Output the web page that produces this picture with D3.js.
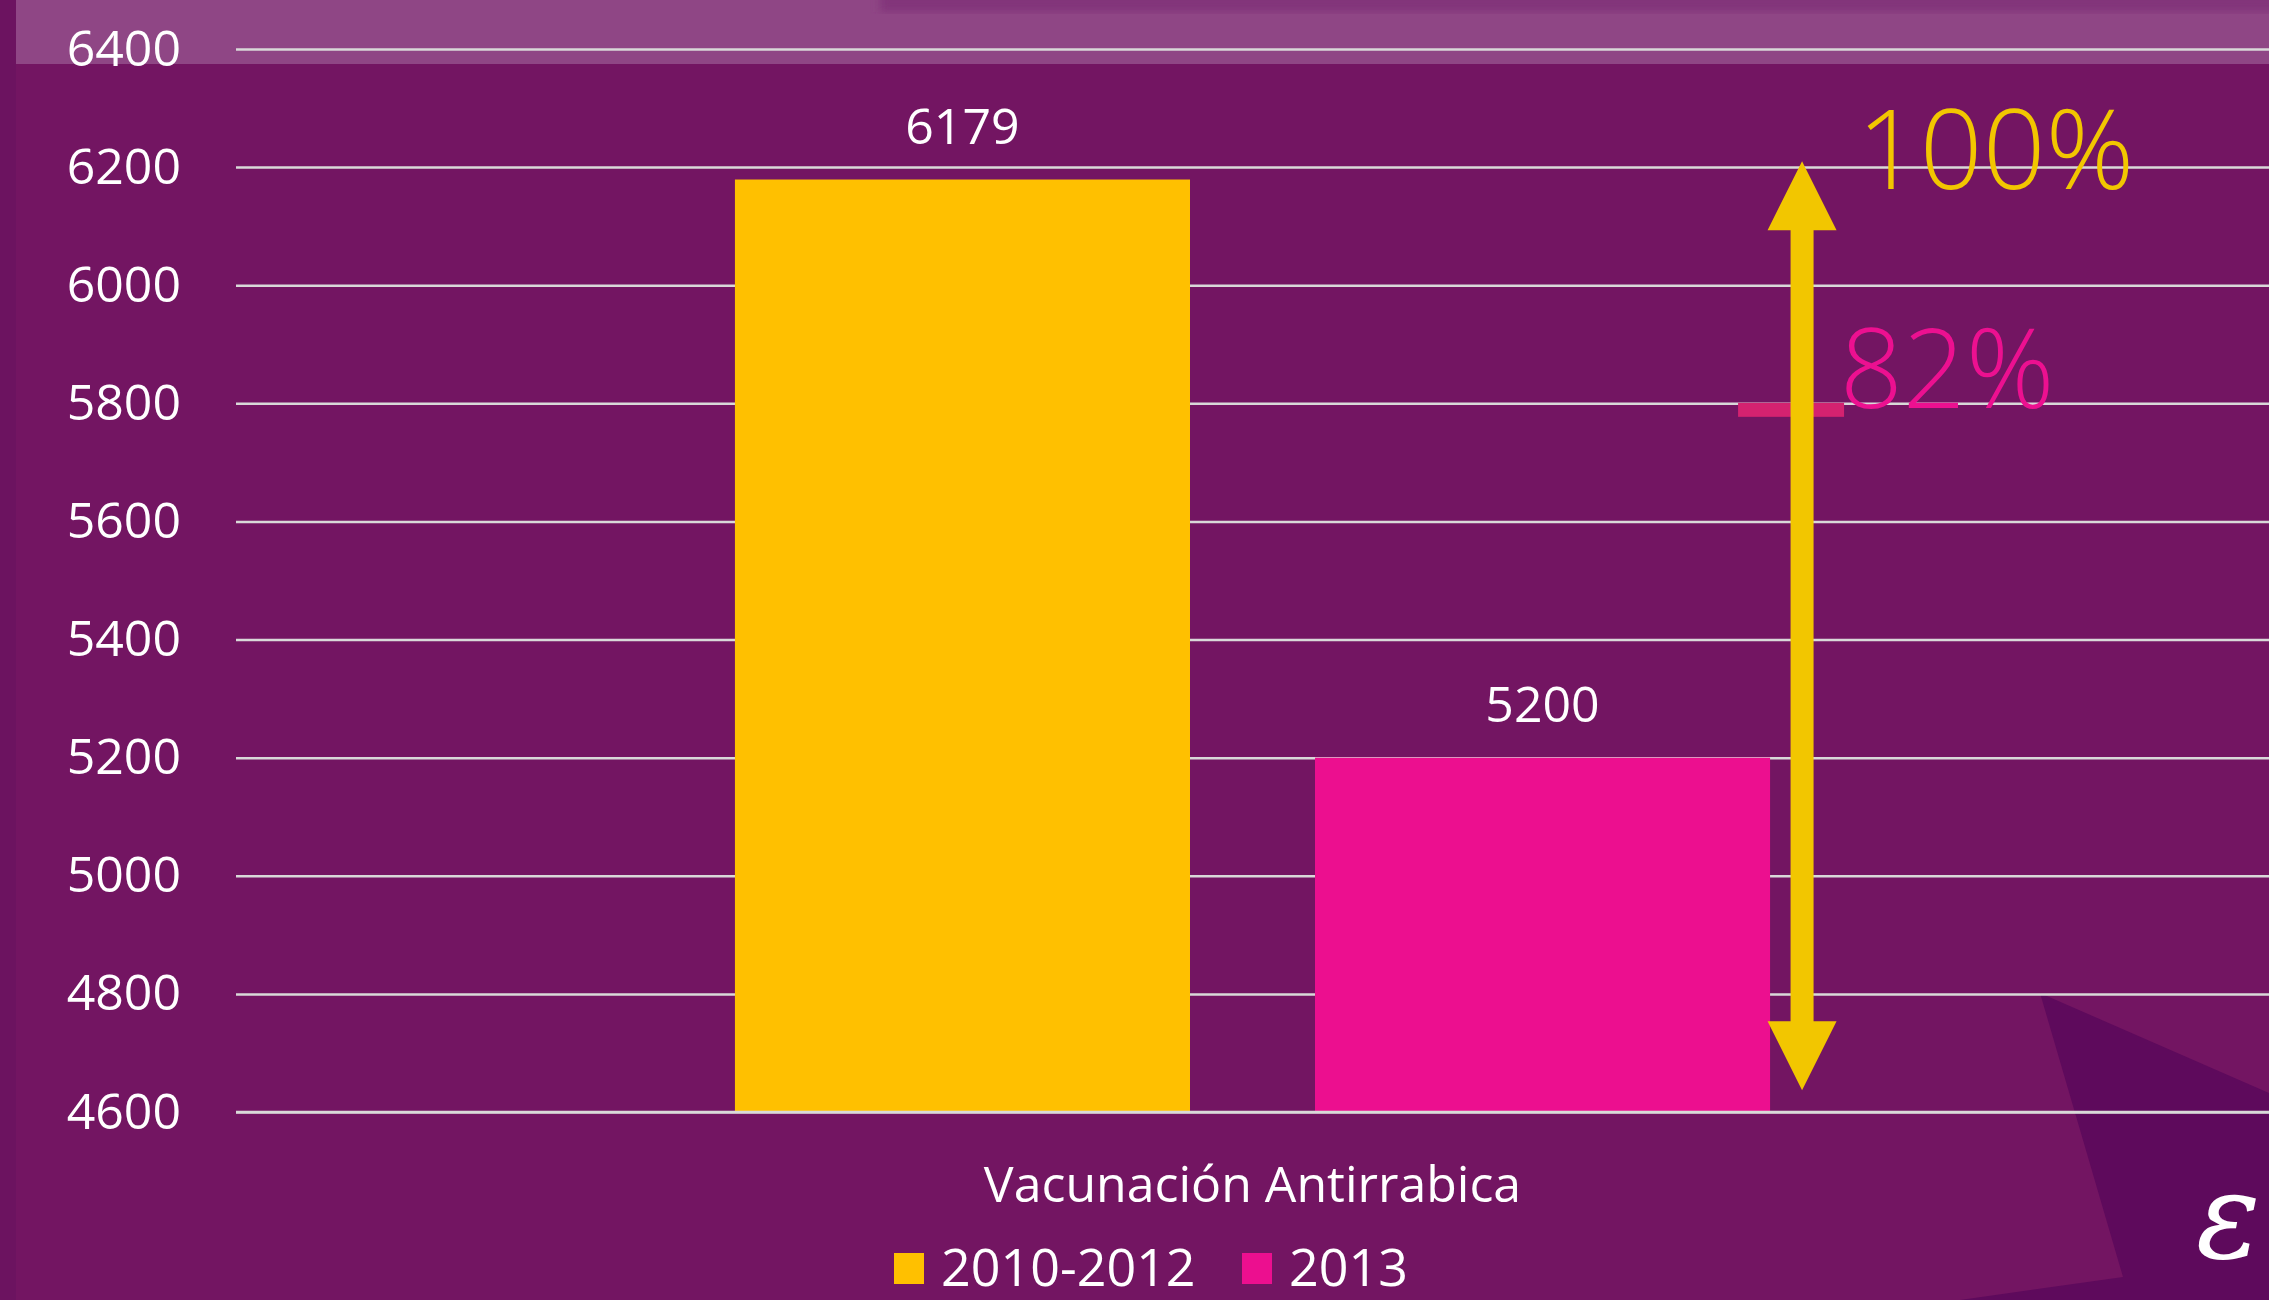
<!DOCTYPE html>
<html>
<head>
<meta charset="utf-8">
<script src="https://cdn.jsdelivr.net/npm/d3@7"></script>
<style>
  html, body { margin: 0; padding: 0; background: #731562; overflow: hidden; }
  svg { display: block; font-family: "Open Sans", "Segoe UI", sans-serif; }
</style>
</head>
<body>
<svg></svg>
<script>
// data
const categories = ["Vacunación Antirrabica"];
const seriesNames = ["2010-2012", "2013"];
const seriesColors = ["#ffc000", "#ec0f8f"];
const values2010_2012 = [6179];
const values2013 = [5200];
const yTicks = [4600, 4800, 5000, 5200, 5400, 5600, 5800, 6000, 6200, 6400];
const pctLabels = ["100%", "82%"];
const arrowRange = [4637, 6210];   // double arrow, value units
const markValue = 5789;            // pink mark on the arrow

const width = 2269, height = 1300;
const margin = { left: 236, right: 0, top: 49, bottom: 188 };
const font = "'Open Sans', 'Segoe UI', sans-serif";

const svg = d3.select("svg").attr("width", width).attr("height", height)
  .attr("viewBox", [0, 0, width, height]);

// background bits
svg.append("rect").attr("width", width).attr("height", height).attr("fill", "#731562");
svg.append("rect").attr("x", 0).attr("y", 0).attr("width", 16).attr("height", height).attr("fill", "#6c1360");
svg.append("rect").attr("x", 16).attr("y", 0).attr("width", width - 16).attr("height", 64).attr("fill", "#8f4685");
const blur = svg.append("defs").append("filter").attr("id", "blur");
blur.append("feGaussianBlur").attr("stdDeviation", 4);
svg.append("rect").attr("x", 880).attr("y", -8).attr("width", 1420).attr("height", 20)
  .attr("fill", "#82367a").attr("filter", "url(#blur)");
svg.append("polygon")
  .attr("points", "2040,993 2269,1093 2269,1300 1960,1300 2123,1277")
  .attr("fill", "#5e0a5c");
svg.append("text").attr("x", 2196).attr("y", 1258)
  .attr("fill", "#fff").style("font-family", "DejaVu Serif, serif").style("font-style", "italic")
  .style("font-size", "120px").text("ε");

const y = d3.scaleLinear().domain([4600, 6400]).range([height - margin.bottom, margin.top]);

const x0 = d3.scaleBand().domain(categories)
  .range([margin.left, width - margin.right])
  .paddingInner(0).paddingOuter(0.482);

const x1 = d3.scaleBand().domain(seriesNames)
  .range([0, x0.bandwidth()])
  .paddingInner(0.2155);

const color = d3.scaleOrdinal().domain(seriesNames).range(seriesColors);

const table = categories.map((c, i) => ({
  category: c,
  values: [
    { key: seriesNames[0], value: values2010_2012[i] },
    { key: seriesNames[1], value: values2013[i] }
  ]
}));

// y axis + gridlines
const y_axis = d3.axisLeft(y)
  .tickValues(yTicks)
  .tickFormat(d3.format("d"))
  .tickSize(-(width - margin.left - margin.right))
  .tickPadding(55);

const gy = svg.append("g")
  .attr("transform", `translate(${margin.left},0)`)
  .call(y_axis)
  .attr("font-family", font);
gy.select(".domain").remove();
gy.selectAll(".tick line").attr("stroke", "#d9d9d9").attr("stroke-width", 2.5);
gy.selectAll(".tick text").attr("fill", "#fff").style("font-size", "50px");

// bars
const groups = svg.append("g").selectAll("g")
  .data(table).join("g")
  .attr("transform", d => `translate(${x0(d.category)},0)`);

groups.selectAll("rect")
  .data(d => d.values).join("rect")
  .attr("x", d => x1(d.key))
  .attr("y", d => y(d.value))
  .attr("width", x1.bandwidth())
  .attr("height", d => y(4600) - y(d.value))
  .attr("fill", d => color(d.key));

groups.selectAll("text.val")
  .data(d => d.values).join("text")
  .attr("class", "val")
  .attr("x", d => x1(d.key) + x1.bandwidth() / 2)
  .attr("y", d => y(d.value) - 36)
  .attr("text-anchor", "middle")
  .attr("fill", "#fff")
  .style("font-size", "50px")
  .text(d => d.value);

// baseline over bar bottoms
svg.append("line")
  .attr("x1", margin.left).attr("x2", width - margin.right)
  .attr("y1", y(4600)).attr("y2", y(4600))
  .attr("stroke", "#d9d9d9").attr("stroke-width", 2.5);

// category axis
const x_axis = d3.axisBottom(x0).tickSize(0).tickPadding(54);
const gx = svg.append("g")
  .attr("transform", `translate(0,${y(4600)})`)
  .call(x_axis)
  .attr("font-family", font);
gx.select(".domain").remove();
gx.selectAll(".tick text").attr("fill", "#fff").style("font-size", "50px");

// double arrow with pink mark
const ax = x0(categories[0]) + x1(seriesNames[1]) + x1.bandwidth() + 32;
const head = 69, shaft = 23;
svg.append("rect")
  .attr("x", ax - 64).attr("y", y(markValue) - 7)
  .attr("width", 106).attr("height", 14)
  .attr("fill", "#d42270");
const yt = y(arrowRange[1]), yb = y(arrowRange[0]);
const arrowPath = d3.path();
arrowPath.moveTo(ax, yt);
arrowPath.lineTo(ax + head / 2, yt + head);
arrowPath.lineTo(ax + shaft / 2, yt + head);
arrowPath.lineTo(ax + shaft / 2, yb - head);
arrowPath.lineTo(ax + head / 2, yb - head);
arrowPath.lineTo(ax, yb);
arrowPath.lineTo(ax - head / 2, yb - head);
arrowPath.lineTo(ax - shaft / 2, yb - head);
arrowPath.lineTo(ax - shaft / 2, yt + head);
arrowPath.lineTo(ax - head / 2, yt + head);
arrowPath.closePath();
svg.append("path").attr("d", arrowPath.toString()).attr("fill", "#f2c600");

svg.append("text")
  .attr("x", ax + 55).attr("y", y(6200) + 22)
  .attr("fill", "#f2c600").style("font-size", "110px").style("font-weight", 300)
  .text(pctLabels[0]);
svg.append("text")
  .attr("x", ax + 38).attr("y", y(markValue) - 2)
  .attr("fill", "#ec1090").style("font-size", "110px").style("font-weight", 300)
  .text(pctLabels[1]);

// legend
const legend = svg.append("g").selectAll("g")
  .data(seriesNames).join("g")
  .attr("transform", (d, i) => `translate(${[894, 1242][i]},1253)`);
legend.append("rect").attr("width", 30).attr("height", 31).attr("fill", d => color(d));
legend.append("text")
  .attr("x", 47).attr("y", 33)
  .attr("fill", "#fff").style("font-size", "52px")
  .text(d => d);
</script>
</body>
</html>
